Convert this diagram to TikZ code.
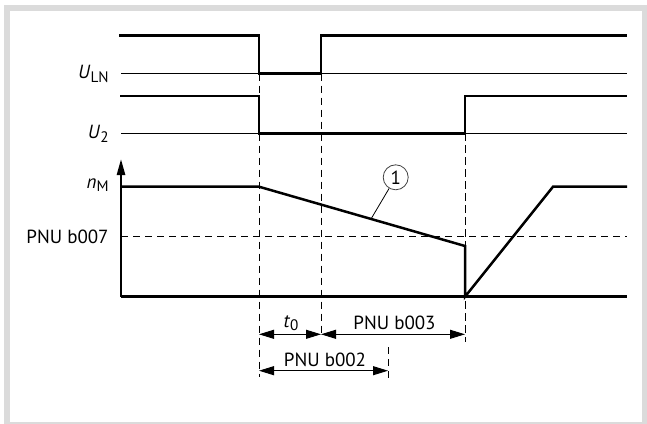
\documentclass[tikz,border=0pt]{standalone}
\usepackage{fontspec}
\setmainfont{PT Sans}
\usetikzlibrary{arrows.meta, positioning}

\newcommand{\lowidx}[1]{\raisebox{-0.35ex}{\fontsize{7.6}{9}\selectfont #1}}

\begin{document}
\begin{tikzpicture}[x=0.5pt, y=-0.5pt, font=\fontsize{9.5}{11}\selectfont]

	\tikzset{
		signal/.style={line width=1.25pt, line join=miter},
		baseline/.style={line width=0.5pt},
		guide/.style={line width=0.5pt, dash pattern=on 3.6pt off 2.4pt},
		dimarrow/.style={line width=0.5pt, {Triangle[length=7.5pt,width=4.5pt]}-{Triangle[length=7.5pt,width=4.5pt]}},
		lbl/.style={inner sep=1pt},
		marker/.style={circle, draw=black!75, line width=0.4pt, inner sep=0pt, minimum size=12.5pt},
	}

	\useasboundingbox (0,0) rectangle (647,423);
	\draw[black!14, line width=3.2pt] (7,8) rectangle (645,425);

	% U_LN
	\draw[baseline] (121,73.5) -- (627,73.5);
	\draw[signal] (119,35.7) -- (259,35.7) -- (259,73.5) -- (321,73.5) -- (321,35.7) -- (627,35.7);
	\node[lbl, anchor=east] (uln) at (111,74) {\textit{U}\lowidx{LN}};

	% U_2
	\draw[baseline] (121,133.3) -- (627,133.3);
	\draw[signal] (120,96) -- (259,96) -- (259,133.3) -- (465,133.3) -- (465,96) -- (627,96);
	\node[lbl, anchor=east] (utwo) at (111,134) {\textit{U}\lowidx{2}};

	% n_M
	\draw[signal, -{Triangle[length=8pt,width=4pt]}] (121,296.7) -- (121,159);
	\draw[signal] (121,296.7) -- (627,296.7);
	\draw[guide] (121,236.7) -- (627,236.7);
	\draw[signal] (121,186.7) -- (259,186.7) -- (465,246) -- (465,296.7) -- (553,186.7) -- (627,186.7);
	\node[lbl, anchor=east] (nm) at (111,185) {\textit{n}\lowidx{M}};
	\node[lbl, anchor=east] (pnub007) at (111,236.7) {PNU b007};

	\node[marker] (mark) at (395.7,177.3) {1};
	\coordinate (slope) at (371,219);
	\draw[line width=0.4pt] (mark) -- (slope);

	% guides
	\draw[guide] (259,73.5) -- (259,377);
	\draw[guide] (321,73.5) -- (321,337);
	\draw[guide] (465,133.3) -- (465,342);
	\draw[guide] (388,347) -- (388,378);

	% times
	\coordinate (off) at (259,334.3);
	\coordinate (on) at (321,334.3);
	\coordinate (back) at (465,334.3);
	\coordinate (offb) at (259,370.7);
	\coordinate (endb) at (388,370.7);

	\draw[dimarrow] (off) -- (on);
	\draw[dimarrow] (on) -- (back);
	\draw[dimarrow] (offb) -- (endb);

	\node[lbl] (tzero) at (291,323) {\textit{t}\lowidx{0}};
	\node[lbl] (pnub003) at (394.5,323) {PNU b003};
	\node[lbl] (pnub002) at (325,360) {PNU b002};

\end{tikzpicture}
\end{document}
